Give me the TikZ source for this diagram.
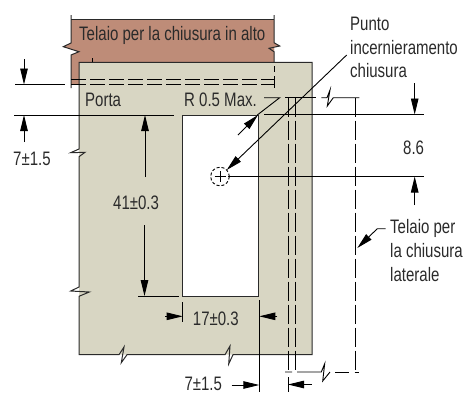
\documentclass[tikz,border=0pt]{standalone}
\usepackage{fontspec}
\setmainfont[FakeStretch=0.77]{Liberation Sans}
\usetikzlibrary{arrows.meta}
\definecolor{doorc}{HTML}{D8D6C3}
\definecolor{framec}{HTML}{BE8C78}
\definecolor{inkc}{HTML}{2A2A2A}
\tikzset{
 outl/.style={draw=inkc,line width=1pt,line join=miter},
 dim/.style={draw=black,line width=0.9pt},
 dimarrow/.style={dim,-{Stealth[length=16pt,width=7.5pt,inset=0pt]}},
 dash1/.style={dim,dash pattern=on 15pt off 4pt},
 dash2/.style={dim,dash pattern=on 19pt off 4pt},
 lab/.style={font=\fontsize{19.5}{24}\selectfont,text=inkc,inner sep=0pt,align=left,anchor=base west}
}
\begin{document}
\begin{tikzpicture}[x=1pt,y=-1pt]
\useasboundingbox (0,0) rectangle (474,392);
% frame
\path[fill=framec] (71,19.5) -- (274,19.5) -- (274,62) -- (79,62) -- (79,84.5) -- (71,84.5) -- (71,55) -- (79,51.7) -- (63.3,46.7) -- (71,43) -- cycle;
\path[fill=framec] (274,42.7) -- (279.7,46) -- (269,48.3) -- (274,51.7) -- cycle;
% door
\path[fill=doorc,even odd rule] (79,62.3) -- (312,62.3) -- (312,354.7) -- (79,354.7) -- cycle
 (182.7,115) rectangle (258,296);
\path[fill=doorc] (79,149) -- (85,152.3) -- (79,156.7) -- cycle (79,287) -- (89.3,292) -- (79,296.3) -- cycle;
\path[fill=white] (79,149) -- (70.7,152.7) -- (79,156.7) -- cycle;
\draw[outl] (71,15) -- (71,43) -- (63.3,46.7) -- (79,51.7) -- (71,55) -- (71,88);
\draw[outl] (71,19.5) -- (274,19.5);
\draw[outl] (274,15) -- (274,42.7) -- (279.7,46) -- (269,48.3) -- (274,51.7) -- (274,62);
\draw[dim] (274,66) -- (274,72) (274,76) -- (274,88);
\draw[outl] (79,62.3) -- (312,62.3) -- (312,354.7) -- (233,354.7) -- (228.7,364) -- (230,346) -- (225,354.7)
  -- (127,354.7) -- (121.3,362.7) -- (124,347) -- (119,354.7) -- (79,354.7)
  -- (79,296.3) -- (89.3,292) -- (70.7,291) -- (79,287) -- (79,156.7) -- (85,152.3) -- (70.7,152.7) -- (79,149) -- cycle;
\draw[outl] (182.7,115) rectangle (258,296);
% dashes top
\draw[dash1] (71,79) -- (274,79);
\draw[dash1] (71,84.5) -- (274,84.5);
\draw[dim] (92,58) -- (92,62);
% top dims
\coordinate (a1) at (24,59); \coordinate (a2) at (24,84.5);
\draw[dimarrow] (a1) -- (a2);
\draw[dim] (15,84.3) -- (65,84.3);
\draw[dim] (14,115) -- (174,115);
\coordinate (b1) at (24,142); \coordinate (b2) at (24,115);
\draw[dimarrow] (b1) -- (b2);
\node[lab] (t7a) at (13,165) {7±1.5};
% 41
\node[lab] (t41) at (113,209.3) {41±0.3};
\draw[dimarrow] (145,177) -- (145,115);
\draw[dimarrow] (144.5,225) -- (144.5,296);
\draw[dim] (138.3,296.3) -- (179.3,296.3);
% 17
\draw[dim] (182.7,302) -- (182.7,322);
\draw[dimarrow] (165,316.3) -- (182.7,316.3);
\node[lab] (t17) at (192.7,325.3) {17±0.3};
\draw[dim] (259.3,300) -- (259.3,392);
\draw[dimarrow] (277.3,316.3) -- (259.3,316.3);
% lower 7
\node[lab] (t7b) at (184.3,390.6) {7±1.5};
\draw[dimarrow] (231.7,385) -- (259.3,385);
\draw[dim] (288,377) -- (288,392);
\draw[dimarrow] (311.7,384.5) -- (288,384.5);
% side frame dashes
\draw[dash2] (288.3,97.7) -- (288.3,372);
\draw[dash2] (295.7,97.7) -- (295.7,372);
\draw[dash2] (355.7,97.7) -- (355.7,372);
\draw[dim] (285,97.7) -- (316,97.7);
\draw[dim] (321.3,97.7) -- (327,97.7) -- (330,90) -- (327.3,106) -- (333.3,97.7) -- (359.3,97.7);
\draw[dim] (285,372) -- (292,372) (297,372) -- (321.3,372) -- (324.7,363.7) -- (322.7,381) -- (330,372);
\draw[dim] (335,372) -- (349,372) (354.7,372) -- (359.3,372);
% R
\node[lab] (tr) at (184,106) {R 0.5 Max.};
\draw[dim] (264,97.7) -- (279.7,97.7) -- (257.3,115);
\draw[dimarrow] (238,135) -- (258,115);
\node[lab] (tporta) at (85,106) {Porta};
\node[lab] (tframe) at (79,40) {Telaio per la chiusura in alto};
% centre
\coordinate (c) at (220,176.5);
\draw[dim,dash pattern=on 3pt off 2pt] (c) circle (9.3pt);
\draw[dim] (214.5,176.5) -- (225.5,176.5) (220,171) -- (220,182);
\draw[dim] (228,176.5) -- (424,176.5);
\draw[dimarrow] (346.7,55) -- (226.7,170);
% right
\node[lab] (tp) at (350,30) {Punto};
\node[lab] (ti) at (350,54.3) {incernieramento};
\node[lab] (tc) at (350,77.7) {chiusura};
\draw[dim] (264,114.5) -- (424,114.5);
\draw[dimarrow] (414.7,83.3) -- (414.7,114.5);
\draw[dimarrow] (414.7,205) -- (414.7,176.5);
\node[lab] (t86) at (403,154) {8.6};
\draw[dimarrow] (385.7,228.7) -- (377.3,228.7) -- (357.3,248);
\node[lab] (tt1) at (390,233.7) {Telaio per};
\node[lab] (tt2) at (390,257.7) {la chiusura};
\node[lab] (tt3) at (390,281.3) {laterale};
\end{tikzpicture}
\end{document}
